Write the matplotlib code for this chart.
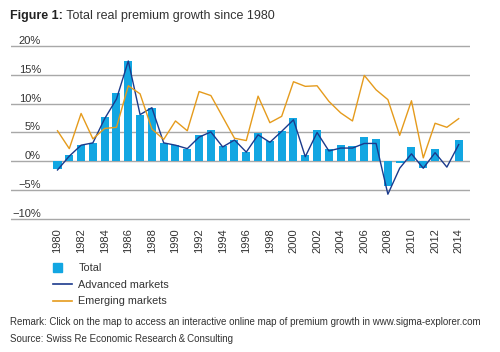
import matplotlib
matplotlib.use("Agg")
import matplotlib.pyplot as plt
import matplotlib.patches as mpatches
from matplotlib.lines import Line2D
from matplotlib.legend_handler import HandlerPatch

plt.rcParams['font.family'] = ['Liberation Sans', 'DejaVu Sans']

# data (%)
years = list(range(1980, 2015))
total = [-1.3, 1.1, 2.9, 3.2, 7.6, 11.8, 17.4, 8.1, 9.3, 3.1,
         2.8, 2.2, 4.5, 5.4, 2.6, 3.7, 1.6, 4.9, 3.5, 5.2,
         7.5, 1.1, 5.4, 2.2, 2.8, 2.6, 4.2, 3.9, -4.2, -0.3,
         2.5, -1.1, 2.2, 0.0, 3.7]
advanced = [-1.5, 0.9, 2.8, 3.2, 7.4, 10.8, 17.4, 8.1, 9.3, 3.2,
            2.8, 2.2, 4.2, 5.1, 2.5, 3.7, 1.6, 4.6, 3.3, 5.2,
            7.2, 0.8, 5.0, 1.8, 2.3, 2.3, 3.1, 3.1, -5.7, -1.2,
            1.3, -1.2, 1.5, -1.0, 2.9]
emerging = [5.3, 2.2, 8.3, 3.9, 5.7, 5.9, 13.1, 11.7, 5.6, 3.8,
            7.0, 5.3, 12.1, 11.4, 7.7, 4.0, 3.6, 11.3, 6.7, 7.8,
            13.8, 13.0, 13.1, 10.4, 8.4, 7.0, 14.9, 12.4, 10.7, 4.5,
            10.5, 0.6, 6.6, 5.9, 7.4]
yticks = [-10, -5, 0, 5, 10, 15, 20]
ytick_labels = ['\u221210%', '\u22125%', '0%', '5%', '10%', '15%', '20%']

c_total = '#12a6e2'
c_adv = '#1b3a8c'
c_emg = '#e59b1c'
c_text = '#333333'

fig = plt.figure(figsize=(5, 3.52), dpi=100)
ax = fig.add_axes([0.022, 0.3696, 0.918, 0.508])

ax.bar(years, total, width=0.68, color=c_total, zorder=2)
ax.plot(years, advanced, color=c_adv, lw=1.0, zorder=3)
ax.plot(years, emerging, color=c_emg, lw=1.0, zorder=3)

ax.set_xlim(1976.06, 2014.96)
ax.set_ylim(-10.5, 20.5)
for s in ax.spines.values():
    s.set_visible(False)
ax.yaxis.grid(True, color='#a8a8a8', lw=1.0, zorder=1)
ax.set_axisbelow(True)

ax.set_yticks(yticks)
ax.set_yticklabels(ytick_labels, va='bottom', ha='right', fontsize=8, color=c_text)
ax.tick_params(axis='y', length=0, pad=-21.6)
ax.set_xticks(years[::2])
ax.set_xticklabels([str(y) for y in years[::2]], rotation=90, fontsize=8, color=c_text)
ax.tick_params(axis='x', length=0, pad=4.5)

# title: bold prefix + regular text
t1 = fig.text(0.02, 0.946, 'Figure 1:', fontsize=9, weight='bold', color='#222222', va='baseline')
ax.annotate(' Total real premium growth since 1980', xy=(1, 0), xycoords=t1,
            fontsize=9, color=c_text, va='bottom')


def make_square(legend, orig_handle, xdescent, ydescent, width, height, fontsize):
    s = height * 1.2
    return mpatches.Rectangle((-xdescent, -ydescent + (height - s) / 2), s, s)


handles = [mpatches.Patch(color=c_total),
           Line2D([], [], color=c_adv, lw=1.2),
           Line2D([], [], color=c_emg, lw=1.2)]
fig.legend(handles, ['Total', 'Advanced markets', 'Emerging markets'],
           loc='upper left', bbox_to_anchor=(0.106, 0.252), frameon=False,
           fontsize=7.8, labelcolor=c_text, handlelength=1.75, handletextpad=0.6,
           labelspacing=0.6, borderpad=0, borderaxespad=0,
           handler_map={mpatches.Patch: HandlerPatch(patch_func=make_square)})

fig.text(0.02, 0.085, 'Remark: Click on the map to access an interactive online map of premium growth in www.sigma-explorer.com',
         fontsize=7, color=c_text, va='center')
fig.text(0.02, 0.037, 'Source: Swiss Re Economic Research\u2009&\u2009Consulting',
         fontsize=7, color=c_text, va='center')

fig.savefig('out.png', dpi=100)
